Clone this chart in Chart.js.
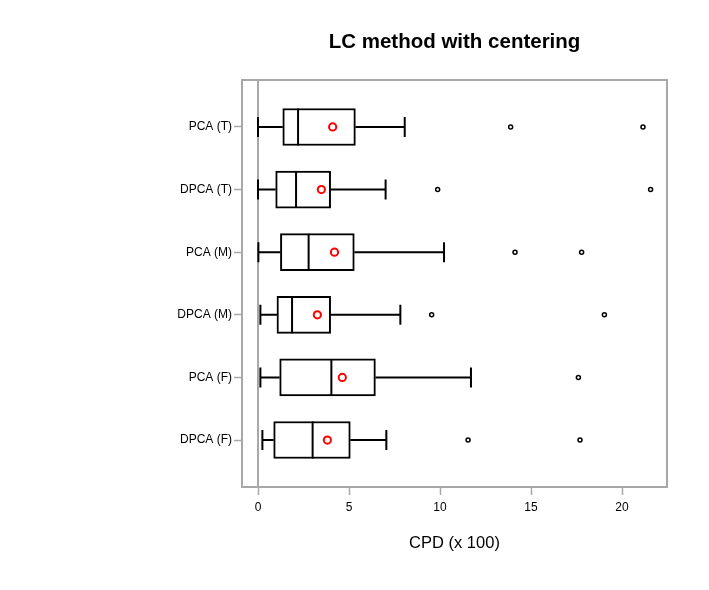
<!DOCTYPE html>
<html>
<head>
<meta charset="utf-8">
<script src="https://cdn.jsdelivr.net/npm/chart.js@4/dist/chart.umd.min.js"></script>
<style>
  body { margin: 0; background: #fff; }
  #wrap { width: 709px; height: 590px; }
</style>
</head>
<body>
<div id="wrap"><canvas id="boxChart" width="709" height="590"></canvas></div>
<script>
// Box plot values (CPD x 100)
const groups = ['PCA (T)', 'DPCA (T)', 'PCA (M)', 'DPCA (M)', 'PCA (F)', 'DPCA (F)'];
const whiskerLow = [0.0, 0.0, 0.02, 0.13, 0.13, 0.24];
const q1 = [1.36, 0.97, 1.23, 1.04, 1.19, 0.86];
const median = [2.2, 2.09, 2.78, 1.87, 4.03, 3.0];
const q3 = [5.35, 3.99, 5.29, 3.99, 6.45, 5.07];
const whiskerHigh = [8.06, 7.01, 10.22, 7.82, 11.7, 7.05];
const means = [4.1, 3.48, 4.2, 3.26, 4.63, 3.81];
const outliers = [
    [13.88, 21.15],
    [9.87, 21.57],
    [14.12, 17.78],
    [9.54, 19.03],
    [17.6],
    [11.54, 17.69]
];
const xTicks = [0, 5, 10, 15, 20];

const grey = '#a8a8a8';
const fontFamily = '"Liberation Sans", Arial, sans-serif';

// Whiskers, caps, medians, frame and zero line, all placed through the chart scales
const boxPlugin = {
    id: 'boxPlugin',
    beforeDatasetsDraw(chart) {
        const { ctx, chartArea, scales } = chart;
        ctx.save();
        ctx.strokeStyle = grey;
        ctx.lineWidth = 2;
        ctx.strokeRect(chartArea.left, chartArea.top, chartArea.right - chartArea.left, chartArea.bottom - chartArea.top);
        const x0 = scales.x.getPixelForValue(0);
        ctx.beginPath();
        ctx.moveTo(x0, chartArea.top);
        ctx.lineTo(x0, chartArea.bottom);
        ctx.stroke();
        ctx.restore();
    },
    afterDatasetDraw(chart, args) {
        if (args.meta.type !== 'bar') return;
        const { ctx, scales } = chart;
        const xs = scales.x, ys = scales.y;
        ctx.save();
        ctx.strokeStyle = '#000';
        ctx.lineWidth = 2;
        groups.forEach((g, i) => {
            const y = ys.getPixelForValue(i);
            const cap = 10;
            const half = 18.5;
            ctx.beginPath();
            // left whisker
            ctx.moveTo(xs.getPixelForValue(whiskerLow[i]), y);
            ctx.lineTo(xs.getPixelForValue(q1[i]), y);
            ctx.moveTo(xs.getPixelForValue(whiskerLow[i]), y - cap);
            ctx.lineTo(xs.getPixelForValue(whiskerLow[i]), y + cap);
            // right whisker
            ctx.moveTo(xs.getPixelForValue(q3[i]), y);
            ctx.lineTo(xs.getPixelForValue(whiskerHigh[i]), y);
            ctx.moveTo(xs.getPixelForValue(whiskerHigh[i]), y - cap);
            ctx.lineTo(xs.getPixelForValue(whiskerHigh[i]), y + cap);
            // median
            ctx.moveTo(xs.getPixelForValue(median[i]), y - half);
            ctx.lineTo(xs.getPixelForValue(median[i]), y + half);
            ctx.stroke();
        });
        ctx.restore();
    }
};

const outlierPoints = [];
outliers.forEach((vals, i) => vals.forEach(v => outlierPoints.push({ x: v, y: i })));

const ctx = document.getElementById('boxChart').getContext('2d');
const chart = new Chart(ctx, {
    type: 'bar',
    data: {
        datasets: [
            {
                type: 'scatter',
                label: 'Mean',
                data: means.map((v, i) => ({ x: v, y: i })),
                pointStyle: 'circle',
                pointRadius: 3.6,
                pointBorderWidth: 2,
                pointBorderColor: '#ff0000',
                pointBackgroundColor: 'rgba(0,0,0,0)',
                order: 0
            },
            {
                type: 'scatter',
                label: 'Outliers',
                data: outlierPoints,
                pointStyle: 'circle',
                pointRadius: 2,
                pointBorderWidth: 1.5,
                pointBorderColor: '#000',
                pointBackgroundColor: '#fff',
                order: 0
            },
            {
                type: 'bar',
                label: 'IQR',
                indexAxis: 'y',
                data: groups.map((g, i) => ({ x: [q1[i], q3[i]], y: i })),
                backgroundColor: '#fff',
                borderColor: '#000',
                borderWidth: 2,
                borderSkipped: false,
                barThickness: 37,
                order: 1
            }
        ]
    },
    options: {
        responsive: false,
        animation: false,
        layout: { padding: { left: 0, right: 42, top: 0, bottom: 0 } },
        plugins: {
            legend: { display: false },
            tooltip: { enabled: false },
            title: {
                display: true,
                fullSize: false,
                text: 'LC method with centering',
                color: '#000',
                font: { family: fontFamily, size: 20.5, weight: 'bold' },
                padding: { top: 30, bottom: 25.4 }
            }
        },
        scales: {
            x: {
                type: 'linear',
                position: 'bottom',
                offset: false,
                min: -0.88,
                max: 22.47,
                afterBuildTicks: (scale) => { scale.ticks = xTicks.map(v => ({ value: v })); },
                afterFit: (scale) => { scale.height = 103; },
                ticks: {
                    color: '#000',
                    padding: 5,
                    font: { family: fontFamily, size: 12 }
                },
                grid: {
                    offset: false,
                    drawOnChartArea: false,
                    drawTicks: true,
                    tickLength: 8,
                    tickColor: grey,
                    tickWidth: 1.5
                },
                border: { display: false },
                title: {
                    display: true,
                    text: 'CPD (x 100)',
                    color: '#000',
                    font: { family: fontFamily, size: 16.5 },
                    padding: { top: 0, bottom: 37 }
                }
            },
            y: {
                type: 'linear',
                position: 'left',
                offset: false,
                reverse: true,
                min: -0.75,
                max: 5.75,
                afterBuildTicks: (scale) => { scale.ticks = groups.map((g, i) => ({ value: i })); },
                afterFit: (scale) => { scale.width = 242; },
                ticks: {
                    color: '#000',
                    padding: 2,
                    font: { family: fontFamily, size: 12 },
                    callback: (v) => groups[v]
                },
                grid: {
                    offset: false,
                    drawOnChartArea: false,
                    drawTicks: true,
                    tickLength: 8,
                    tickColor: grey,
                    tickWidth: 1.5
                },
                border: { display: false }
            }
        }
    },
    plugins: [boxPlugin]
});
</script>
</body>
</html>
